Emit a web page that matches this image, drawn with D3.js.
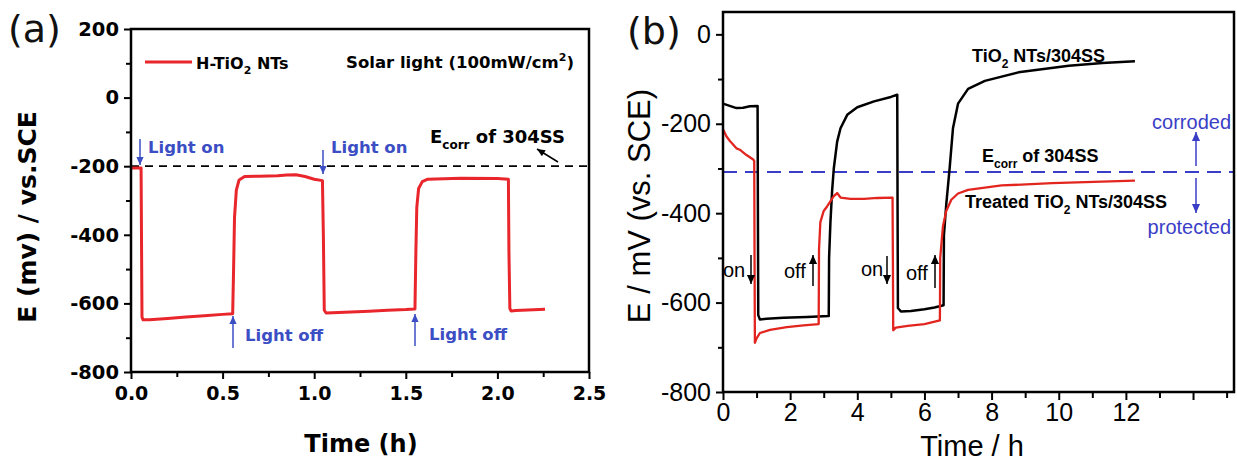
<!DOCTYPE html>
<html>
<head>
<meta charset="utf-8">
<script src="https://cdn.jsdelivr.net/npm/d3@7"></script>
<style>
body { margin: 0; background: #fff; }
</style>
</head>
<body>
<div id="chart"></div>
<script>
// ---- data ----
// panel (a): H-TiO2 NTs, solar light on/off cycles, E in mV vs SCE
var timeA = [0, 0.055, 0.06, 0.066, 0.1, 0.2, 0.3, 0.4, 0.5, 0.555, 0.56, 0.565, 0.575, 0.59, 0.62, 0.7, 0.8, 0.85, 0.9, 0.95, 1.0, 1.045,
             1.05, 1.055, 1.065, 1.1, 1.2, 1.3, 1.4, 1.5, 1.55, 1.555, 1.56, 1.57, 1.59, 1.62, 1.8, 2.0, 2.06,
             2.063, 2.068, 2.075, 2.1, 2.26];
var potentialA = [-205, -205, -640, -648, -648, -644, -640, -636, -632, -630, -500, -350, -270, -240, -230, -229, -228, -226, -225, -230, -238, -242,
                  -400, -620, -628, -627, -625, -623, -620, -618, -616, -450, -320, -265, -245, -238, -235, -236, -238,
                  -450, -615, -622, -621, -617];

// panel (b): TiO2 NTs/304SS (black)
var timeB = [0, 0.2, 0.4, 0.6, 0.8, 1.03, 1.04, 1.05, 1.1, 1.3, 1.8, 2.5, 3.15, 3.16, 3.2, 3.25, 3.3, 3.4, 3.5, 3.7, 4.0, 4.5, 5.0, 5.19,
             5.2, 5.21, 5.3, 5.6, 6.0, 6.3, 6.57, 6.58, 6.65, 6.75, 6.85, 7.0, 7.3, 7.8, 8.8, 10.3, 11.3, 12.27];
var potentialB = [-155, -160, -165, -164, -161, -160, -400, -628, -638, -636, -634, -632, -630, -500, -420, -350, -300, -240, -210, -180, -163, -150, -140, -135,
                  -400, -612, -620, -619, -615, -611, -606, -450, -380, -300, -210, -155, -122, -104, -85, -70, -64, -60];

// panel (b): Treated TiO2 NTs/304SS (red)
var timeTreated = [0, 0.1, 0.2, 0.4, 0.5, 0.7, 0.9, 0.93, 0.94, 0.95, 1.0, 1.1, 1.4, 1.9, 2.4, 2.85, 2.86, 2.9, 3.0, 3.1, 3.3, 3.4, 3.5, 3.8, 4.2, 4.6, 5.05,
                   5.06, 5.07, 5.15, 5.5, 6.0, 6.46, 6.47, 6.55, 6.65, 6.8, 7.0, 7.3, 8.3, 9.8, 12.27];
var potentialTreated = [-212, -228, -238, -255, -258, -270, -280, -283, -500, -690, -680, -668, -661, -655, -651, -648, -480, -420, -395, -385, -362, -355, -365, -368, -368, -366, -365,
                        -500, -662, -656, -652, -648, -640, -500, -430, -395, -370, -356, -348, -338, -333, -327];

var ecorrA = -200;   // E_corr of 304SS, panel (a)
var ecorrB = -308;   // E_corr of 304SS, panel (b)

// tick values
var ticksAX = [0, 0.5, 1.0, 1.5, 2.0, 2.5];
var minorAX = [0.25, 0.75, 1.25, 1.75, 2.25];
var ticksAY = [200, 0, -200, -400, -600, -800];
var minorAY = [100, -100, -300, -500, -700];
var ticksBX = [0, 2, 4, 6, 8, 10, 12, 14];
var minorBX = [1, 3, 5, 7, 9, 11, 13, 15];
var ticksBY = [0, -200, -400, -600, -800];
var minorBY = [-100, -300, -500, -700];

function zip(xs, ys) {
    return xs.map(function (t, i) { return [t, ys[i]]; });
}

var svg = d3.select("#chart").append("svg")
    .attr("width", 1237)
    .attr("height", 463)
    .style("background", "#fff");

// small filled arrow: line from (x1,y1) to (x2,y2), head at (x2,y2)
function arrow(g, x1, y1, x2, y2, color, w, head) {
    g.append("line")
        .attr("x1", x1).attr("y1", y1).attr("x2", x2).attr("y2", y2)
        .attr("stroke", color).attr("stroke-width", w);
    var a = Math.atan2(y2 - y1, x2 - x1);
    var L = head, H = head * 0.45;
    var p1 = [x2 - L * Math.cos(a) + H * Math.sin(a), y2 - L * Math.sin(a) - H * Math.cos(a)];
    var p2 = [x2 - L * Math.cos(a) - H * Math.sin(a), y2 - L * Math.sin(a) + H * Math.cos(a)];
    g.append("path")
        .attr("d", "M" + x2 + "," + y2 + "L" + p1 + "L" + p2 + "Z")
        .attr("fill", color);
}

function styleAxis(sel, font, size, weight) {
    sel.attr("font-family", null).attr("font-size", null);
    sel.select(".domain").remove();
    sel.selectAll("line").attr("stroke", "#000").attr("stroke-width", 2);
    sel.selectAll("text")
        .style("font-family", font)
        .style("font-size", size + "px")
        .style("font-weight", weight)
        .attr("fill", "#000");
}

// plain hyphen labels like the original (no unicode minus)
function plain(d) { return String(d); }

// ================= panel (a) =================
function drawPanelA() {
    var font = "'DejaVu Sans', sans-serif";
    var x = d3.scaleLinear().domain([0, 2.5]).range([131, 589]);
    var y = d3.scaleLinear().domain([-800, 200]).range([372, 29]);
    var g = svg.append("g");

    // axes
    g.append("g").attr("transform", "translate(0,372)")
        .call(d3.axisBottom(x).tickValues(ticksAX).tickSize(7).tickPadding(8).tickFormat(d3.format(".1f")))
        .call(styleAxis, font, 19, "bold");
    g.append("g").attr("transform", "translate(0,372)")
        .call(d3.axisBottom(x).tickValues(minorAX).tickSize(5).tickFormat(""))
        .call(styleAxis, font, 19, "bold");
    g.append("g").attr("transform", "translate(131,0)")
        .call(d3.axisLeft(y).tickValues(ticksAY).tickSize(7).tickPadding(5).tickFormat(plain))
        .call(styleAxis, font, 19.5, "bold");
    g.append("g").attr("transform", "translate(131,0)")
        .call(d3.axisLeft(y).tickValues(minorAY).tickSize(5).tickFormat(""))
        .call(styleAxis, font, 19, "bold");

    // E_corr dashed line
    g.append("line")
        .attr("x1", x(0)).attr("x2", x(2.5))
        .attr("y1", y(ecorrA)).attr("y2", y(ecorrA))
        .attr("stroke", "#000").attr("stroke-width", 1.8)
        .attr("stroke-dasharray", "8,6");

    // data
    var line = d3.line()
        .x(function (d) { return x(d[0]); })
        .y(function (d) { return y(d[1]); });
    g.append("path")
        .datum(zip(timeA, potentialA))
        .attr("d", line)
        .attr("fill", "none")
        .attr("stroke", "#e8262b")
        .attr("stroke-width", 3)
        .attr("stroke-linejoin", "round");

    // frame
    g.append("rect")
        .attr("x", 131).attr("y", 29).attr("width", 458).attr("height", 343)
        .attr("fill", "none").attr("stroke", "#000").attr("stroke-width", 2.5);

    // legend
    g.append("line").attr("x1", 145).attr("x2", 192).attr("y1", 62).attr("y2", 62)
        .attr("stroke", "#e8262b").attr("stroke-width", 3);
    var lt = g.append("text").attr("x", 196).attr("y", 69)
        .style("font-family", font).style("font-weight", "bold").style("font-size", "16px");
    lt.append("tspan").text("H-TiO");
    lt.append("tspan").attr("dy", 5).style("font-size", "11px").text("2");
    lt.append("tspan").attr("dy", -5).text(" NTs");

    var st = g.append("text").attr("x", 574).attr("y", 68).attr("text-anchor", "end")
        .style("font-family", font).style("font-weight", "bold").style("font-size", "16.5px");
    st.append("tspan").text("Solar light (100mW/cm");
    st.append("tspan").attr("dy", -7).style("font-size", "11px").text("2");
    st.append("tspan").attr("dy", 7).text(")");

    // E_corr label
    var et = g.append("text").attr("x", 430).attr("y", 143)
        .style("font-family", font).style("font-weight", "bold").style("font-size", "18px");
    et.append("tspan").text("E");
    et.append("tspan").attr("dy", 6).style("font-size", "12px").text("corr");
    et.append("tspan").attr("dy", -6).text(" of 304SS");
    arrow(g, 558, 162, 537, 149, "#000", 1.5, 8);

    // light on / off annotations
    var blue = "#3b4ec4";
    function blueText(tx, ty, s) {
        g.append("text").attr("x", tx).attr("y", ty).text(s)
            .style("font-family", font).style("font-weight", "bold").style("font-size", "16.5px")
            .attr("fill", blue);
    }
    arrow(g, 140, 139, 140, 165, blue, 1.5, 8);
    blueText(148, 153, "Light on");
    arrow(g, 323, 150, 323, 174, blue, 1.5, 8);
    blueText(331, 153, "Light on");
    arrow(g, 233, 348, 233, 316, blue, 1.5, 8);
    blueText(245, 341, "Light off");
    arrow(g, 415, 346, 415, 314, blue, 1.5, 8);
    blueText(429, 340, "Light off");

    // titles
    svg.append("text").attr("x", 8).attr("y", 42).text("(a)")
        .style("font-family", font).style("font-size", "38px").attr("fill", "#111");
    svg.append("text").attr("x", 361).attr("y", 452).attr("text-anchor", "middle").text("Time (h)")
        .style("font-family", font).style("font-weight", "bold").style("font-size", "24px");
    svg.append("text").attr("transform", "translate(36,217) rotate(-90)").attr("text-anchor", "middle")
        .text("E (mv) / vs.SCE")
        .style("font-family", font).style("font-weight", "bold").style("font-size", "25px");
}

// ================= panel (b) =================
function drawPanelB() {
    var font = "'Liberation Sans', Arial, sans-serif";
    var x = d3.scaleLinear().domain([0, 15.25]).range([723, 1235]);
    var y = d3.scaleLinear().domain([-800, 50]).range([392, 12]);
    var g = svg.append("g");

    g.append("g").attr("transform", "translate(0,392)")
        .call(d3.axisBottom(x).tickValues(ticksBX).tickSize(8).tickPadding(3)
            .tickFormat(function (d) { return d <= 12 ? String(d) : ""; }))
        .call(styleAxis, font, 25, "normal");
    g.append("g").attr("transform", "translate(0,392)")
        .call(d3.axisBottom(x).tickValues(minorBX).tickSize(6).tickFormat(""))
        .call(styleAxis, font, 25, "normal");
    g.append("g").attr("transform", "translate(723,0)")
        .call(d3.axisLeft(y).tickValues(ticksBY).tickSize(7).tickPadding(5).tickFormat(plain))
        .call(styleAxis, font, 25, "normal");
    g.append("g").attr("transform", "translate(723,0)")
        .call(d3.axisLeft(y).tickValues(minorBY).tickSize(5).tickFormat(""))
        .call(styleAxis, font, 25, "normal");

    var blue = "#3a3ec6";
    g.append("line")
        .attr("x1", x(0)).attr("x2", x(15.25))
        .attr("y1", y(ecorrB)).attr("y2", y(ecorrB))
        .attr("stroke", blue).attr("stroke-width", 2)
        .attr("stroke-dasharray", "14,8");

    var line = d3.line()
        .x(function (d) { return x(d[0]); })
        .y(function (d) { return y(d[1]); });
    g.append("path")
        .datum(zip(timeB, potentialB))
        .attr("d", line)
        .attr("fill", "none").attr("stroke", "#000").attr("stroke-width", 2.5)
        .attr("stroke-linejoin", "round");
    g.append("path")
        .datum(zip(timeTreated, potentialTreated))
        .attr("d", line)
        .attr("fill", "none").attr("stroke", "#e2261f").attr("stroke-width", 2.3)
        .attr("stroke-linejoin", "round");

    g.append("rect")
        .attr("x", 723).attr("y", 12).attr("width", 511).attr("height", 380)
        .attr("fill", "none").attr("stroke", "#000").attr("stroke-width", 2.5);

    // series labels
    function boldText(tx, ty, parts) {
        var t = g.append("text").attr("x", tx).attr("y", ty)
            .style("font-family", font).style("font-weight", "bold").style("font-size", "18px");
        parts.forEach(function (p) {
            var s = t.append("tspan").text(p[0]);
            if (p[1]) s.attr("dy", p[1]);
            if (p[2]) s.style("font-size", p[2]);
        });
    }
    boldText(972, 62, [["TiO"], ["2", 6, "12px"], [" NTs/304SS", -6]]);
    boldText(982, 162, [["E"], ["corr", 6, "12px"], [" of 304SS", -6]]);
    boldText(965, 208, [["Treated TiO"], ["2", 6, "12px"], [" NTs/304SS", -6]]);

    g.append("text").attr("x", 1231).attr("y", 129).attr("text-anchor", "end").text("corroded")
        .style("font-family", font).style("font-size", "20px").attr("fill", blue);
    g.append("text").attr("x", 1231).attr("y", 234).attr("text-anchor", "end").text("protected")
        .style("font-family", font).style("font-size", "20px").attr("fill", blue);
    arrow(g, 1196, 166, 1196, 132, blue, 1.5, 9);
    arrow(g, 1196, 178, 1196, 213, blue, 1.5, 9);

    // on / off
    function small(tx, ty, s) {
        g.append("text").attr("x", tx).attr("y", ty).text(s)
            .style("font-family", font).style("font-size", "20px");
    }
    small(723, 277, "on");
    arrow(g, 751, 255, 751, 284, "#000", 1.5, 9);
    small(784, 278, "off");
    arrow(g, 813, 286, 813, 255, "#000", 1.5, 9);
    small(861, 276, "on");
    arrow(g, 887, 256, 887, 284, "#000", 1.5, 9);
    small(906, 280, "off");
    arrow(g, 935, 288, 935, 255, "#000", 1.5, 9);

    // titles
    svg.append("text").attr("x", 627).attr("y", 44).text("(b)")
        .style("font-family", "'DejaVu Sans', sans-serif").style("font-size", "38px").attr("fill", "#111");
    svg.append("text").attr("x", 972).attr("y", 456).attr("text-anchor", "middle").text("Time / h")
        .style("font-family", font).style("font-size", "29px");
    svg.append("text").attr("transform", "translate(650,206) rotate(-90)").attr("text-anchor", "middle")
        .text("E / mV (vs. SCE)")
        .style("font-family", font).style("font-size", "31px");
}

drawPanelA();
drawPanelB();
</script>
</body>
</html>
